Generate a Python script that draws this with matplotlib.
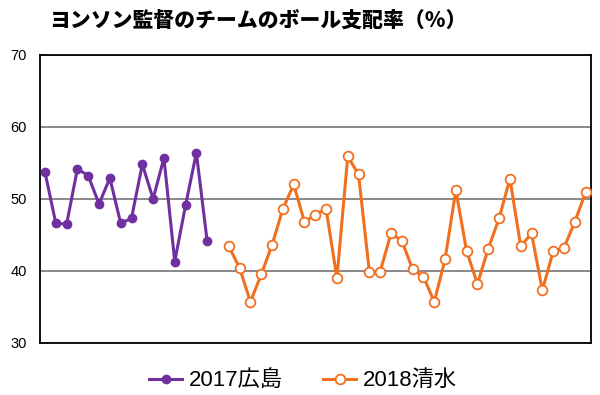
import numpy as np
import matplotlib
matplotlib.use("Agg")
import matplotlib.pyplot as plt

plt.rcParams['font.family'] = ['Liberation Sans', 'Noto Sans CJK JP']

title = "ヨンソン監督のチームのボール支配率（％）"
label_2017 = "2017広島"
label_2018 = "2018清水"

# ボール支配率(%) per match
hiroshima_2017 = [53.7, 46.6, 46.5, 54.2, 53.2, 49.3, 52.9, 46.6, 47.3, 54.8,
                  50.0, 55.7, 41.3, 49.1, 56.4, 44.1]
shimizu_2018 = [43.4, 40.4, 35.7, 39.5, 43.6, 48.6, 52.0, 46.8, 47.8, 48.6,
                39.0, 55.9, 53.4, 39.9, 39.9, 45.2, 44.2, 40.2, 39.2, 35.7,
                41.6, 51.2, 42.7, 38.2, 43.1, 47.3, 52.8, 43.4, 45.2, 37.3,
                42.7, 43.2, 46.8, 50.9]
yticks = [30, 40, 50, 60, 70]

x17 = np.arange(len(hiroshima_2017))
x18 = np.arange(len(shimizu_2018)) + len(hiroshima_2017) + 1

fig = plt.figure(figsize=(6, 3.95), dpi=100)
ax = fig.add_axes([0.066, 0.132, 0.919, 0.729])

ax.plot(x17, hiroshima_2017, color='#7030A0', lw=2.2, marker='o', ms=6,
        mfc='#7030A0', mec='#7030A0', label=label_2017, zorder=3)
ax.plot(x18, shimizu_2018, color='#F07020', lw=2.2, marker='o', ms=7,
        mfc='white', mec='#F07020', mew=1.3, label=label_2018, zorder=3)

ax.set_xlim(-0.5, x18[-1] + 0.5)
ax.set_ylim(30, 70)
ax.set_yticks(yticks)
ax.set_xticks([])
ax.yaxis.grid(True, color='#808080', lw=1.3)
ax.set_axisbelow(True)
ax.tick_params(axis='y', length=0, labelsize=10.5, pad=9)
for s in ax.spines.values():
    s.set_color('black')
    s.set_linewidth(1.3)

fig.text(0.43, 0.947, title, ha='center', va='center', fontsize=15,
         fontweight='heavy', family=['Noto Sans CJK JP', 'DejaVu Sans'])

fig.legend(loc='center', bbox_to_anchor=(0.505, 0.036), ncol=2, frameon=False,
           fontsize=16, handlelength=1.5, columnspacing=1.8, handletextpad=0.3)

fig.savefig("out.png", dpi=100)
